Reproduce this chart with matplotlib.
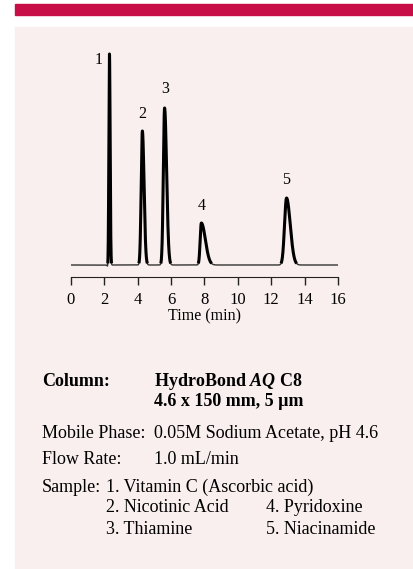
#!/usr/bin/python3
# ------------------------------------------------------------------
# HydroBond AQ C8 chromatogram of water-soluble vitamins
import numpy as np
import matplotlib.pyplot as plt
from matplotlib.patches import Rectangle

plt.rcParams["font.family"] = ["Liberation Serif", "DejaVu Serif"]
plt.rcParams["mathtext.fontset"] = "custom"
plt.rcParams["mathtext.rm"] = "Liberation Serif"
plt.rcParams["mathtext.bf"] = "Liberation Serif:bold"
plt.rcParams["mathtext.bfit"] = "Liberation Serif:italic:bold"

W, H = 414, 569

# peaks: retention time (min), height, left/right width (min)
peak_labels = ["1", "2", "3", "4", "5"]
peak_rt = [2.32, 4.29, 5.62, 7.82, 12.92]
peak_height = [211, 134, 157, 42, 67]
peak_wl = [0.035, 0.07, 0.075, 0.07, 0.12]
peak_wr = [0.04, 0.10, 0.12, 0.24, 0.22]
label_y = [205, 151, 176, 59, 85]   # label height above baseline
label_dx = [-0.65, 0.0, 0.05, 0.0, 0.0]

xticks = [0, 2, 4, 6, 8, 10, 12, 14, 16]

t = np.linspace(0, 16, 4001)
signal = np.zeros_like(t)
for rt, h, wl, wr in zip(peak_rt, peak_height, peak_wl, peak_wr):
    s = np.where(t < rt, wl, wr)
    signal += h * np.exp(-0.5 * ((t - rt) / s) ** 2)
# small dip just before the first peak
signal -= 2 * np.exp(-0.5 * ((t - 2.22) / 0.03) ** 2)

fig = plt.figure(figsize=(W / 100, H / 100), dpi=100)
fig.add_artist(Rectangle((15 / W, 0), 1 - 15 / W, 1 - 27 / H,
                         transform=fig.transFigure, color="#FAEFEF", zorder=-10))
fig.add_artist(Rectangle((15 / W, 1 - 15 / H), 1 - 15 / W, 11 / H,
                         transform=fig.transFigure, color="#C70E46", zorder=-10))

x0, x1 = 70.7, 338.0
ax = fig.add_axes([x0 / W, 1 - 277 / H, (x1 - x0) / W, 237 / H])
ax.patch.set_alpha(0)
ax.plot(t, signal, color="#333333", lw=1.0)
sig_peak = np.where(signal > 1.5, signal, np.nan)
ax.plot(t, sig_peak, color="black", lw=2.2, solid_capstyle="butt")
for lab, rt, ly, dx in zip(peak_labels, peak_rt, label_y, label_dx):
    ax.text(rt + dx, ly, lab, ha="center", va="center", fontsize=11.5)

ax.set_xlim(0, 16)
ax.set_ylim(-12, 225)
ax.set_xticks(xticks)
ax.set_yticks([])
for sp in ["top", "right", "left"]:
    ax.spines[sp].set_visible(False)
ax.spines["bottom"].set_color("#222222")
ax.tick_params(axis="x", direction="out", length=6, width=1, color="#222222",
               labelsize=12, pad=5)
ax.set_xlabel("Time (min)", fontsize=11.5, labelpad=0)

def txt(x, y, s, **kw):
    fig.text(x / W, 1 - y / H, s, va="center", ha="left", fontsize=13, **kw)

txt(42, 381, "Column:", fontweight="bold")
txt(154, 381, "HydroBond $\\mathbfit{AQ}$ C8", fontweight="bold")
txt(154, 402, "4.6 x 150 mm, 5 \u00b5m", fontweight="bold")
txt(42, 433, "Mobile Phase:")
txt(154, 433, "0.05M Sodium Acetate, pH 4.6")
txt(42, 460, "Flow Rate:")
txt(154, 460, "1.0 mL/min")
txt(42, 487, "Sample:")
txt(106, 487, "1. Vitamin C (Ascorbic acid)")
txt(106, 508, "2. Nicotinic Acid")
txt(266, 508, "4. Pyridoxine")
txt(106, 529, "3. Thiamine")
txt(266, 529, "5. Niacinamide")

plt.savefig("out.png", dpi=100)
# ------------------------------------------------------------------
